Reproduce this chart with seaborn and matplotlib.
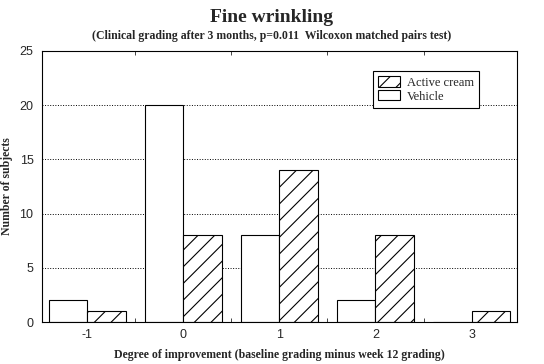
import matplotlib
matplotlib.use("Agg")
import matplotlib.pyplot as plt
from matplotlib.patches import Patch
from matplotlib.ticker import FixedLocator
import seaborn as sns
import pandas as pd

# Data
improvement = ["-1", "0", "1", "2", "3"]
vehicle = [2, 20, 8, 2, 0]
active_cream = [1, 8, 14, 8, 1]

df = pd.DataFrame({
    "improvement": improvement * 2,
    "subjects": vehicle + active_cream,
    "group": ["Vehicle"] * len(improvement) + ["Active cream"] * len(improvement),
})

sns.set_style("white")
plt.rcParams["font.family"] = ["Liberation Sans", "DejaVu Sans"]
plt.rcParams["hatch.linewidth"] = 0.8

fig = plt.figure(figsize=(5.44, 3.64), dpi=100)
ax = fig.add_axes([0.077, 0.115, 0.873, 0.745])

sns.barplot(data=df, x="improvement", y="subjects", hue="group",
            order=improvement, hue_order=["Vehicle", "Active cream"],
            palette=["white", "white"], edgecolor="black", linewidth=0.8,
            width=0.8, ax=ax, legend=False)

# hatch the active cream bars
for bar in ax.containers[1]:
    bar.set_hatch("//")

ax.set_ylim(0, 25)
ax.set_yticks([0, 5, 10, 15, 20, 25])
ax.set_xlim(-0.47, 4.47)
ax.yaxis.grid(True, linestyle=":", color="black", linewidth=0.7)
ax.set_axisbelow(True)
for s in ax.spines.values():
    s.set_color("black")
    s.set_linewidth(0.8)

# ticks at category boundaries, inward
ax.xaxis.set_minor_locator(FixedLocator([0.5, 1.5, 2.5, 3.5]))
ax.tick_params(axis="x", which="major", length=0, labelsize=9, pad=5)
ax.tick_params(axis="x", which="minor", direction="in", length=3, top=True, bottom=True)
ax.tick_params(axis="y", which="major", length=0, labelsize=9, pad=6)

serif = ["Liberation Serif", "DejaVu Serif"]
ax.set_xlabel("Degree of improvement (baseline grading minus week 12 grading)",
              family=serif, fontweight="bold", fontsize=8.5, labelpad=6)
ax.set_ylabel("Number of subjects", family=serif, fontweight="bold", fontsize=8.5, labelpad=5)

fig.text(0.5, 0.952, "Fine wrinkling", ha="center", va="center",
         family=serif, fontweight="bold", fontsize=14)
fig.text(0.5, 0.9, "(Clinical grading after 3 months, p=0.011  Wilcoxon matched pairs test)",
         ha="center", va="center", family=serif, fontweight="bold", fontsize=8.5)

handles = [Patch(facecolor="white", edgecolor="black", hatch="//", linewidth=0.8, label="Active cream"),
           Patch(facecolor="white", edgecolor="black", linewidth=0.8, label="Vehicle")]
leg = ax.legend(handles=handles, loc="upper left", bbox_to_anchor=(0.697, 0.925),
                frameon=True, fancybox=False, edgecolor="black", framealpha=1,
                prop={"family": serif, "size": 9}, handlelength=1.8, handleheight=0.9,
                labelspacing=0.1, borderpad=0.4, handletextpad=0.5, borderaxespad=0)
leg.get_frame().set_linewidth(0.8)

fig.savefig("out.png", dpi=100)
